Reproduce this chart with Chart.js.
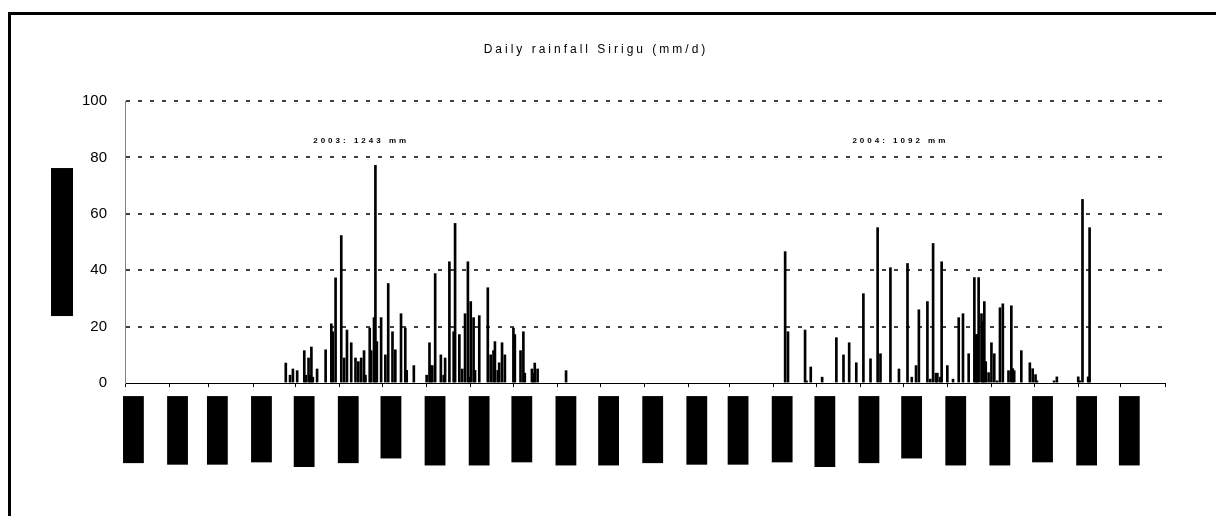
<!DOCTYPE html>
<html>
<head>
<meta charset="utf-8">
<title>Daily rainfall Sirigu</title>
<script src="https://cdn.jsdelivr.net/npm/chart.js@4.4.1/dist/chart.umd.min.js"></script>
<style>
  html, body { margin: 0; padding: 0; background: #fff; overflow: hidden; }
  canvas { display: block; }
</style>
</head>
<body>
<canvas id="chart-rain" width="1216" height="516"></canvas>
<script>
// ── Data ──────────────────────────────────────────────────
// days counted from 1 Jan 2003

const monthDay = [0, 31, 59, 90, 120, 151, 181, 212, 243, 273, 304, 334,
                  365, 396, 425, 456, 486, 517, 547, 578, 609, 639, 670, 700, 731];
const monthLabels = ['01-Jan-03', '01-Feb-03', '01-Mar-03', '01-Apr-03', '01-May-03', '01-Jun-03',
                     '01-Jul-03', '01-Aug-03', '01-Sep-03', '01-Oct-03', '01-Nov-03', '01-Dec-03',
                     '01-Jan-04', '01-Feb-04', '01-Mar-04', '01-Apr-04', '01-May-04', '01-Jun-04',
                     '01-Jul-04', '01-Aug-04', '01-Sep-04', '01-Oct-04', '01-Nov-04', '01-Dec-04', ''];

const rainDay = [
  113, 116, 118, 121, 126, 127, 129, 130, 131, 132, 135, 141, 145, 146, 148, 152, 154, 156, 159,
  162, 164, 166, 168, 169, 172, 173, 175, 176, 177, 180, 183, 185, 188, 190, 194, 197, 198, 203,
  212, 214, 215, 216, 218, 222, 224, 225, 228, 231, 232, 235, 237, 239, 241, 242, 243, 245, 246,
  249, 255, 257, 259, 260, 262, 263, 265, 267, 273, 274, 278, 280, 281, 286, 287, 288, 290, 310,
  464, 466, 478, 479, 482, 490, 500, 505, 509, 514, 519, 524, 529, 531, 538, 544, 550, 553, 556,
  558, 564, 566, 568, 570, 571, 573, 574, 578, 582, 586, 589, 593, 597, 598, 599, 600, 602, 603,
  604, 605, 607, 609, 611, 613, 615, 617, 621, 623, 624, 625, 630, 636, 638, 640, 641, 653, 655,
  670, 671, 673, 677, 678,
];
const rainMm = [
  7.1, 2.8, 5.0, 4.4, 11.5, 2.8, 8.9, 2.8, 12.8, 2.1, 5.0, 11.8, 21.0, 18.2, 37.3, 52.3, 8.9, 18.8, 14.3,
  8.9, 7.6, 8.9, 11.5, 2.8, 19.5, 11.5, 23.2, 77.2, 14.7, 23.2, 10.0, 35.3, 18.2, 11.8, 24.6, 19.5, 4.5, 6.2,
  2.8, 14.3, 6.2, 6.2, 38.8, 10.0, 2.8, 8.9, 43.0, 18.2, 56.6, 17.2, 5.0, 24.6, 43.0, 2.1, 28.9, 23.2, 4.5,
  23.9, 33.8, 10.0, 11.5, 14.7, 4.5, 7.2, 14.3, 10.0, 19.5, 17.2, 11.5, 18.2, 3.5, 5.0, 3.5, 7.1, 5.0, 4.4,
  46.6, 18.2, 18.8, 0.8, 5.7, 2.1, 16.1, 10.0, 14.3, 7.2, 31.7, 8.6, 55.1, 10.4, 40.9, 5.0, 42.4, 2.1, 6.2,
  26.0, 28.9, 1.4, 49.5, 3.5, 3.5, 2.1, 43.0, 6.2, 1.4, 23.2, 24.6, 10.4, 37.4, 17.2, 17.2, 37.4, 24.6, 21.8,
  28.9, 7.6, 3.7, 14.3, 10.4, 0.8, 26.7, 28.1, 4.4, 27.4, 5.1, 4.4, 11.5, 7.2, 5.1, 3.0, 0.8, 0.8, 2.2,
  2.2, 0.8, 65.1, 2.2, 55.1,
];

const yearNoteText = ['2003: 1243 mm', '2004: 1092 mm'];
const yearNoteDay  = [166, 545];
const yearNoteMm   = [86, 86];

const CHART_TITLE = 'Daily rainfall Sirigu (mm/d)';
const Y_TITLE     = 'Rainfall (mm/d)';
const FONT        = "'Liberation Sans', Arial, sans-serif";

// ── Plugins ───────────────────────────────────────────────

// white page + the thick frame round the chart (runs off right and bottom)
const framePlugin = {
  id: 'frame',
  beforeDraw(chart) {
    const { ctx, width, height } = chart;
    ctx.save();
    ctx.fillStyle = '#fff';
    ctx.fillRect(0, 0, width, height);
    ctx.strokeStyle = '#000';
    ctx.lineWidth = 3;
    ctx.strokeRect(9.5, 13.5, width + 40, height + 40);
    ctx.restore();
  },
};

// title, y-axis title (black block) and the yearly totals
const textPlugin = {
  id: 'texts',
  afterDraw(chart) {
    const { ctx, chartArea, scales } = chart;
    ctx.save();

    // chart title
    ctx.fillStyle = '#000';
    ctx.font = `12px ${FONT}`;
    ctx.letterSpacing = '3px';
    ctx.textAlign = 'center';
    ctx.textBaseline = 'middle';
    ctx.fillText(CHART_TITLE, 596, 50);

    // yearly totals
    ctx.font = `bold 8px ${FONT}`;
    ctx.letterSpacing = '3px';
    yearNoteText.forEach((t, i) => {
      ctx.fillText(t, scales.x.getPixelForValue(yearNoteDay[i]), scales.y.getPixelForValue(yearNoteMm[i]));
    });

    // y-axis title, drawn as a black block
    const cy = (chartArea.top + chartArea.bottom) / 2;
    const bx = chartArea.left - 74;
    ctx.fillRect(bx, cy - 74, 22, 148);
    ctx.letterSpacing = '0px';
    ctx.font = `15px ${FONT}`;
    ctx.translate(bx + 11, cy);
    ctx.rotate(-Math.PI / 2);
    ctx.fillText(Y_TITLE, 0, 0);
    ctx.restore();
  },
};

// ── Chart ─────────────────────────────────────────────────

new Chart(document.getElementById('chart-rain'), {
  type: 'bar',
  data: {
    datasets: [{
      data:            rainDay.map((d, i) => ({ x: d, y: rainMm[i] })),
      backgroundColor: '#000',
      borderWidth:     0,
      barThickness:    2,
      grouped:         false,
    }],
  },
  options: {
    responsive: false,
    animation:  false,
    layout: { padding: { left: 64, right: 51, top: 101, bottom: 40 } },
    plugins: {
      legend:  { display: false },
      tooltip: { enabled: false },
    },
    scales: {
      x: {
        type:   'linear',
        min:    0,
        max:    731,
        offset: false,
        afterBuildTicks: s => { s.ticks = monthDay.map(v => ({ value: v })); },
        grid:   { drawOnChartArea: false, drawTicks: true, tickLength: 4, color: '#000', offset: false },
        border: { color: '#000', width: 1 },
        ticks: {
          autoSkip:    false,
          minRotation: 90,
          maxRotation: 90,
          padding:     11,
          color:       '#000',
          font:        { family: FONT, size: 14 },
          callback:    v => monthLabels[monthDay.indexOf(v)] ?? '',
          showLabelBackdrop: true,
          backdropColor:     c => (monthLabels[c.index] ? '#000' : 'rgba(0,0,0,0)'),
          backdropPadding:   2,
        },
      },
      y: {
        min: 0,
        max: 100,
        ticks:  { stepSize: 20, padding: 18, color: '#000', font: { family: FONT, size: 15 } },
        grid:   { drawTicks: false, lineWidth: 2, color: c => (c.tick.value === 0 ? 'rgba(0,0,0,0)' : '#404040') },
        border: { color: '#808080', width: 1, dash: [4, 8] },
      },
    },
  },
  plugins: [framePlugin, textPlugin],
});
</script>
</body>
</html>
